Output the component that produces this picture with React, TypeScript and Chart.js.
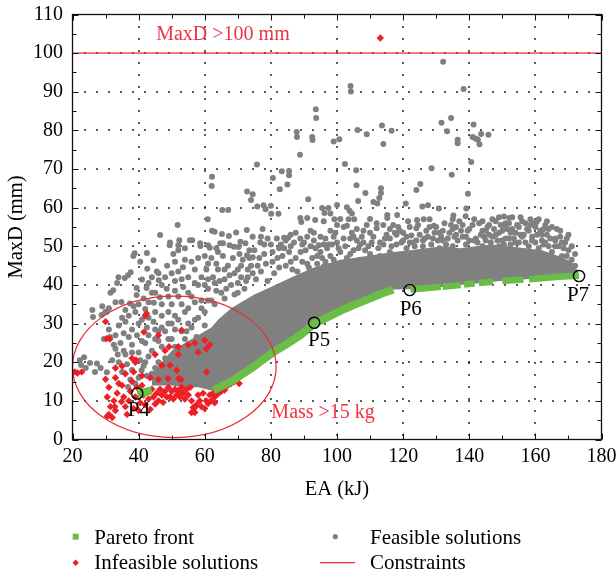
import React, { useEffect, useRef } from 'react';
import { Chart, registerables } from 'chart.js';

Chart.register(...registerables);

// ---------- axis ranges ----------
const xRange = [20, 180];
const yRange = [0, 110];
const xMajorStep = 20;
const yMajorStep = 10;

// ---------- labels ----------
const xTitle = 'EA (kJ)';
const yTitle = 'MaxD (mm)';
const legendLabels = ['Pareto front', 'Feasible solutions', 'Infeasible solutions', 'Constraints'];

// ---------- dense core of the feasible cloud (lower / upper envelope) ----------
const coreEdgeX = [44, 47, 50, 54, 58, 62, 64, 66, 68, 71, 75, 80, 85, 89, 93, 97, 101, 105, 109, 113, 117, 122, 127, 132, 137, 142, 147, 152, 157, 162, 167, 171, 173];
const coreLowerY = [14, 14, 14, 13.5, 13.5, 12.7, 13.3, 14.2, 15.2, 17, 19.3, 22.6, 24.8, 27, 29.9, 31.6, 33.3, 34.8, 36.2, 37.6, 38.8, 38.9, 39.2, 39.5, 40, 40.4, 40.8, 41.2, 41.5, 41.8, 42.1, 42.3, 42.4];
const coreUpperY = [17, 20, 23, 25, 27, 29, 31, 32.5, 34, 35.5, 37.5, 39.5, 41.5, 43, 44.5, 45.5, 46.5, 47, 47.5, 48, 48.5, 49, 49.5, 50, 49.5, 50, 50.5, 50, 49.5, 49, 47.5, 46, 43.5];

// ---------- feasible solutions (scattered) ----------
const feasibleSolutions: [number, number][] = [
  // upper outliers
  [132.1, 97.8], [104.1, 91.5], [104.2, 90.1], [138.3, 90.7],
  [93.6, 85.5], [93.7, 83.2], [134.5, 83.2], [131.6, 82], [141.3, 81.5], [113.6, 81.3], [106.2, 80.1], [116.5, 79.9], [133.3, 79.8], [87.8, 79.6], [109, 79], [143.6, 79.1], [145.8, 78.9], [87.9, 78.3], [92.5, 78.3], [141, 78.3], [141.9, 77.9], [142.6, 77.6], [100.7, 77.7], [92.6, 77.5], [136.5, 77.6], [136.5, 76.7], [99, 77.1], [114, 76.5], [143.1, 76.4],
  [88.8, 73.7], [140.6, 71.8], [102.4, 71.3], [75.8, 71.2], [128.6, 70.2], [105.8, 69.7], [83.3, 69.4], [85.5, 69.5], [85.5, 68.4], [134.7, 68.5], [62.2, 68], [80.6, 67.7], [85, 66], [105.9, 65.8], [62.1, 65.6], [125.2, 66.1], [113.3, 65], [82.7, 64.8], [124, 64.6], [72.8, 64.2], [74.5, 63.5], [108.6, 63.8], [113.3, 63.8], [139.6, 63.6], [112.8, 62.5], [74, 62], [91.3, 62.2], [106.4, 61.7], [111, 61.5], [112.2, 61.1], [120.8, 61.1], [77.8, 60.6], [80, 60.5], [127.5, 60.6], [100, 60.7], [125.8, 60.3], [75.9, 60.3], [103, 60.1], [130.8, 59.8], [139.1, 59.8], [95.5, 59.9], [97.4, 59.9], [65.3, 59.4], [67.1, 59.4], [78.4, 59.6], [103.8, 59.2], [80.1, 58.4], [82.3, 58.4], [98, 58.5], [104.5, 58.5], [115.2, 58.1], [118.2, 58.1], [138.9, 57.8], [135.2, 58], [96.2, 58.6], [88.9, 57.3], [91, 57.3], [60.9, 57], [93.4, 56.8], [99.2, 57], [101, 57.1], [105.2, 57], [110, 57.1], [115.2, 57.3], [126.2, 57], [135, 57], [150.5, 57.7], [152.1, 57.3], [124.2, 56.8], [89.2, 56.3], [96, 56.5], [160.4, 56.3],
  // speckled band above the core
  [51.8, 55.5], [46.5, 52.9], [62.2, 54], [63, 53.8], [65.2, 53.2], [67.3, 52.7], [69.5, 53.6], [84, 52.2], [85.2, 52.2], [124, 54.7], [129.3, 55.3], [162.4, 54.4], [72.7, 54.2], [74.5, 52.5], [76.8, 51], [81.8, 52], [88.9, 52], [93, 53.5], [95, 52.5], [98, 54], [99.5, 53.5], [102, 55], [103, 55.3], [106, 54.5], [109, 55.5], [112, 56], [117, 55.5], [122, 55], [127, 54], [130, 55], [136, 55], [140, 54.5], [143, 56], [144, 56.5], [146, 55.5], [148, 56.5], [149, 57.5], [152, 56], [153, 57.5], [155, 55], [156, 56.5], [157, 56], [158.5, 57], [161, 57], [163.5, 56.5], [160, 55], [164, 54.5], [145, 54], [150, 54], [154, 53.5], [158, 54], [134, 53.5], [131, 53.5], [120, 53.5], [115, 53], [111, 52.5], [104.5, 53.5], [125, 53], [138, 52.5], [142, 52], [147, 52.5], [152, 52], [156.5, 53], [162, 53], [147.5, 54.5], [143.5, 53],
  [95, 48.5], [97.5, 50.5], [99, 52.5], [102.5, 50], [104, 48], [106.5, 49.5], [107.5, 52.5], [110.5, 51], [112.5, 49.5], [114.5, 52], [116.5, 50], [117.5, 53.5], [119.5, 51], [121, 52.5], [123.5, 50], [124.5, 55.5], [126.5, 52], [128, 55], [130.5, 51.5], [132, 54], [133.5, 52], [135, 54.5], [136.5, 51.5], [137.5, 54], [139, 52.5], [141, 55.5], [142.5, 51], [144.5, 52.5], [145.5, 55], [146.5, 51], [148, 53], [149.5, 55.5], [150.5, 50.5], [151.5, 54.5], [153.5, 52], [154.5, 55.5], [156, 52.5], [157.5, 54.5], [159, 52.5], [160, 51], [161.5, 54], [162.5, 50.5], [164.5, 52], [166, 50], [167.5, 52.5], [168.5, 49.5], [169.5, 47.5], [171, 50], [172, 45], [170, 53], [166.5, 54.5], [163, 55.5], [159.5, 56], [155.5, 57.5], [151, 56], [147, 57], [141.5, 57], [137, 56.5], [132.5, 56], [128, 57], [121.5, 56.5], [118.5, 55], [114, 55.5], [108, 54], [103.5, 57], [100, 55.5],
  [126, 51.5], [129.5, 53.5], [133, 50.5], [136, 53], [139.5, 54], [141.5, 51.5], [144, 54], [146, 53], [148.5, 51.5], [150.5, 55.5], [152.5, 53.5], [154, 51], [155.5, 53], [157, 51], [158.5, 55.5], [160.5, 53], [162, 51.5], [163.5, 53], [165, 55], [166, 51.5], [167.5, 54], [168, 51], [169.5, 52], [153, 54.5], [149, 53.5], [145, 51.5], [138, 55.5], [134.5, 55.5], [131.5, 52.5], [127.5, 52.5], [124, 51.5], [122, 51], [119, 54], [116, 54.5], [113, 51], [110, 53.5], [107, 50.5], [105, 52.5], [102, 52], [100.5, 49.5], [98.5, 50.5], [96, 50.5], [93, 51.5], [91, 52.5], [89.5, 50.5], [87.5, 53.5], [86, 50], [84.5, 51.5], [82.5, 49.5], [80.5, 48.5], [78, 50.5], [77, 52.5],
  [49.5, 51], [52, 50.3], [55.5, 51.6], [54, 49.5], [52, 49], [50.5, 48], [51, 46], [48.6, 45], [53.4, 44.6], [58.6, 50.8], [61, 50.3], [63.5, 49.5], [65.5, 50.8], [67.5, 50.3], [70.2, 49.8], [72.3, 50.8], [73.5, 49], [74.5, 47.2],
  [49.4, 50.3], [52.3, 51.6], [56.2, 51.6], [58.7, 50.1], [61.5, 49.6], [64.7, 50.8], [68.8, 49.9], [70.8, 51.2], [72.8, 47.7],
  [76, 45], [78, 48], [80, 50.5], [82, 47], [84, 49.5], [86, 46], [87, 51], [89, 48.5], [91, 45.5], [92, 50], [94, 47.5], [96, 44.8], [97, 49.5], [99, 46.5], [100, 51], [101, 48.5], [94.5, 50.3], [96.5, 52], [100.5, 45.5],
  [103, 47], [104, 52], [105, 49], [107, 46.5], [108, 51], [110, 48], [112, 54.7], [113, 47.5], [114, 50.5], [116, 48.5], [118, 50.5], [119, 47.5], [121, 49.5], [123, 51], [124, 47.8], [108.5, 49], [111.5, 46.8], [116, 52], [120, 51.5], [106, 51.5], [118, 53], [122.5, 52.8], [109.5, 50],
  [126, 50], [128, 48], [129, 52], [131, 49.5], [132, 51.5], [133, 47.5], [135, 50], [137, 48.5], [139, 50.5], [141, 48], [144, 50], [146, 47.8], [149, 50], [151, 52], [153, 49], [155, 51], [157, 48.5], [159, 51.5], [161, 49.5], [163, 51], [165, 48.5], [166, 52], [167, 50], [168, 47.5], [170, 49], [171, 46.5], [172, 48], [150, 51.5], [148, 49], [152.5, 50.5], [135.5, 52.5], [128.5, 50.5], [127, 46.5], [140, 51.5], [138, 47], [134, 46.5], [160.5, 47.5], [165.5, 45.8], [168.5, 44.5], [169, 51], [164, 50], [158, 50],
  [62, 36], [63.5, 38.5], [64.5, 41], [66.5, 39], [67.5, 42.5], [69, 37.5], [70, 40.5], [71, 42], [72.5, 41], [73.5, 47], [74.5, 43], [75.5, 41.5], [76.5, 47], [77, 43.5], [78.5, 45.5], [79, 41], [80.5, 46], [81, 43], [82.5, 44.5], [83.5, 47.5], [84.5, 45], [85.5, 48.5], [86.5, 44], [87.5, 47], [88, 43.5], [89.5, 46], [90.5, 49], [91.5, 44.5], [92.5, 47], [93.5, 49.5], [94, 45.5], [95.5, 47], [96.5, 46], [98, 47.5], [75, 49], [79, 52], [83, 50.5], [86, 53], [90, 51], [92, 54], [77.5, 54.5], [70.5, 48], [66, 44], [64, 48.5], [61, 45.5],
  // left part of the cloud
  [38.4, 47.5], [36.8, 42.5], [37.6, 43.3], [39.4, 39.2], [39.4, 37.4], [32.3, 38.6], [34.8, 35.6], [37.4, 35.2], [30.3, 33], [28.8, 32.2], [26.2, 31.7], [38.8, 48.2], [40.5, 46], [42.6, 44.2], [44, 42], [45.5, 43.5], [46.1, 41.2], [42.4, 39.2], [44, 38], [46.4, 36.8], [41.5, 36.5], [43, 40.5], [33.5, 40.5], [35.8, 41.8], [31.5, 38],
  [33.9, 42], [42.5, 48.3], [44.5, 46.4], [41, 41.4], [46, 43], [29.9, 33],
  [36, 33.5], [40, 35], [42, 33.8], [44.6, 35.4], [26, 33.5], [29, 34.5], [31, 34], [33, 35.5], [38.5, 34.5],
  [22.2, 20.5], [23.5, 21.3], [22.6, 19.3], [25.3, 19.8], [24, 18.5], [31.3, 26.5], [32.5, 24.5], [33.7, 22], [32, 20.5], [27.4, 19.7], [28.5, 18.5], [30.4, 17.4], [26.8, 17.5], [33, 23.5], [34.5, 25], [35.5, 23], [36.8, 13.6], [40.9, 17.9], [42.5, 16.5], [44, 17], [45.4, 16], [36.5, 19.5], [38, 18], [35, 17.5], [29.5, 26], [31, 28.5], [34, 29.5], [36, 30.5], [38, 28.5], [40, 30], [42.5, 29], [44.5, 30.5], [38, 24.5], [40, 22.5], [42, 25], [44, 23], [46, 25.5], [46, 20], [48, 18], [48, 28], [50, 30], [47, 32], [50, 35], [52, 37], [48.5, 39], [51, 41], [53.5, 39.5], [55, 42], [57, 44], [56, 37], [58, 40], [54, 33], [57, 31], [60, 33], [59, 36], [61, 39], [62.5, 42], [64, 44], [66, 41.5], [65, 38], [68, 40], [69, 43], [71, 45], [73, 44], [70, 38], [63, 35],
  [60.5, 44], [62, 47], [63.5, 45.5], [65.5, 47.5], [67, 45], [68.5, 47], [70, 44], [71.5, 46.5], [73, 42], [74, 45], [60, 40], [66, 36.5], [72, 39], [56, 29], [54, 26], [52, 18], [54, 20], [56, 21], [50, 20.5], [48, 21], [50, 26], [52, 31], [46, 28], [42, 20],
  [40, 16], [41.5, 19], [43, 21.5], [45, 18.5], [46.5, 17.5], [47.5, 15], [49, 17], [50.5, 15.5], [51, 19], [53, 17], [55, 15.5], [57, 17], [58.5, 19.5], [60, 21], [61.5, 19], [62, 16], [57, 21.5], [55, 19], [53, 22.5], [51, 24], [49, 26], [47, 24], [45, 26], [43, 27], [41, 25.5], [39.5, 27], [37, 26.5], [35.5, 27.5], [33, 27], [35, 31.5], [37, 32], [39, 33], [41, 31], [43, 31.5], [45, 33], [47, 35], [49, 33], [51, 32], [53, 35], [55, 34], [57, 35.5], [59, 34], [61, 36], [55, 30], [58, 31.5], [60, 29.5], [53, 28], [51, 28.5], [49, 30], [47, 29], [45, 28.5], [43, 35.5], [45, 38], [47, 40], [49, 37], [51, 38.5], [53, 41.5], [55, 38], [57, 40.5], [59, 42], [61, 41.5], [63, 40.5], [56, 46], [58, 47], [60, 47.5], [54, 46.5], [52, 43.5], [50, 43], [48, 42], [57.5, 26.5], [59.5, 26], [54.5, 28], [40.5, 20.5], [38, 22.5], [36, 22], [34, 20], [37.5, 15.5], [39, 14.5],
];

// ---------- infeasible solutions ----------
const infeasibleSolutions: [number, number][] = [
  [113.1, 103.9],
  [20.7, 17.5], [22.8, 17.5], [21.5, 17.2], [30, 15.6], [31, 13.5], [30.5, 11], [31.5, 8.5], [31, 6.5], [30.5, 6], [32, 5.7], [33, 7.5], [32.5, 10], [33.5, 12], [34, 14.5], [33, 16], [35, 14], [35.5, 11], [36, 8.5], [36.5, 6.5], [37, 10], [37.5, 12.5], [38, 15], [38.5, 8], [39, 11], [39.5, 13.5], [40, 7.5], [40.5, 9.5], [41, 14], [41.5, 11.5], [42, 9], [42.5, 12.5], [43, 10.5], [43.5, 7.8], [44, 13], [44.5, 11], [45, 9.2], [45.5, 12], [46, 10], [46.5, 13], [47, 11.5], [47.4, 9.6], [48, 12.5], [48.5, 11], [49, 13.5], [49.5, 11], [50, 12.5], [50.5, 10.5], [51, 13], [51.5, 11.5], [52, 12.7], [52.5, 11], [53, 13.5], [53.5, 12], [54, 10.5], [54.5, 13], [55, 11.5], [55.6, 13.5], [56, 10], [56.5, 8.3], [57, 7], [57.5, 9], [58, 11.5], [58.5, 10], [59, 8.5], [59.5, 12], [60, 8], [60.5, 10], [61, 9.3], [61.5, 11.5], [62, 10], [62.5, 12], [63, 11], [63.5, 12.5], [64, 11.8], [64.5, 13], [65, 12.5], [66, 13.5], [67, 14], [68, 14.5], [69, 15], [70.4, 14.5], [66, 12.8], [63, 9.5], [36, 17], [38.5, 17.5], [41, 16.5], [43.5, 16], [46, 15.5], [34.8, 9.8], [32.8, 8.5],
  [31.3, 26], [30.3, 26.1], [42, 32], [42.4, 32.6], [49.2, 24], [52, 22], [52, 24], [49.5, 19.2], [52.2, 15.8], [58, 22.6], [60, 25.7], [60.5, 23.5], [61.5, 24.5], [53, 28.3], [41.6, 27.8], [46, 27], [60.6, 17.5], [51.5, 17.9], [47, 19.2], [48, 23], [39, 20], [39.2, 20.6], [48.9, 15.8], [52.8, 15.5], [56, 7], [57, 8.3], [49.5, 11], [52.5, 12.7], [30, 30.5], [35, 19], [33, 18.5], [38, 21], [45, 22], [55, 24.5], [57, 25],
];

// ---------- Pareto front (null y = gap) ----------
const paretoFront: [number, number | null][] = [
  [39.6, 11.9], [42, 12.3], [44, 12.7], [53, null],
  [62.6, 12.7], [64, 13.3], [66, 14.2], [68.7, 15.3], [71.5, 17], [74.7, 18.8], [77.5, 20.6], [80.8, 22.6], [85, 24.8], [88.9, 27], [93.1, 29.9], [97, 31.6], [101, 33.3], [105, 34.8], [109.1, 36.2], [113, 37.6], [117, 38.8], [119.5, null],
  [122.2, 38.8], [126, 39.1], [131.4, 39.5], [131.6, null],
  [131.9, 39.5], [137.4, 40], [137.9, null],
  [138.4, 40.1], [141.6, 40.4], [142.2, null],
  [142.9, 40.5], [147.2, 40.8], [148.5, null],
  [150, 41], [153, 41.2], [156.4, 41.4], [157.2, null],
  [158.1, 41.5], [162.6, 41.8], [167, 42.1], [173.2, 42.4],
];

// ---------- constraint ----------
const constraintX = [20, 180];
const constraintY = [100, 100];

// ---------- highlighted solutions ----------
const highlightLabels = ['P4', 'P5', 'P6', 'P7'];
const highlightX = [39.6, 93.1, 122.0, 173.2];
const highlightY = [11.9, 30.2, 38.7, 42.3];

// ---------- annotations ----------
const maxDText = 'MaxD >100 mm';
const maxDTextAt = [65.5, 104.7];
const massText = 'Mass >15 kg';
const massTextAt = [95.8, 6.9];
const massEllipse = { cx: 50.8, cy: 18.8, rx: 30.8, ry: 18.3 };

// ---------- styles ----------
const GRAY = '#808080';
const RED = '#ee1f26';
const RED_LINE = '#ec2a30';
const RED_TEXT = '#ef3340';
const GREEN = '#6abd45';
const FONT = '"Liberation Serif", "Times New Roman", serif';
const labelOffsets = [[1.5, 17], [5, 17.5], [1, 20], [-1, 19.5]];

const AREA = { left: 72.5, right: 601.5, top: 14.5, bottom: 439.5 };

const zeroPadding = (s: any) => {
  s.paddingTop = 0;
  s.paddingBottom = 0;
  s.paddingLeft = 0;
  s.paddingRight = 0;
};

const decorPlugin = {
  id: 'decor',
  beforeDatasetsDraw(chart: any) {
    const { ctx, chartArea: a, scales } = chart;
    const xs = scales.x;
    const ys = scales.y;
    ctx.save();
    ctx.fillStyle = '#000';
    for (let v = xRange[0] + xMajorStep; v < xRange[1]; v += xMajorStep) {
      const px = Math.round(xs.getPixelForValue(v));
      for (let py = a.top + 12; py < a.bottom - 2; py += 12) {
        ctx.fillRect(px - 0.8, Math.round(py) - 0.8, 1.6, 1.6);
      }
    }
    for (let v = yRange[0] + yMajorStep; v < yRange[1]; v += yMajorStep) {
      const py = Math.round(ys.getPixelForValue(v));
      for (let px = a.left + 12; px < a.right - 2; px += 12) {
        ctx.fillRect(Math.round(px) - 0.8, py - 0.8, 1.6, 1.6);
      }
    }
    ctx.restore();
  },
  afterDatasetsDraw(chart: any) {
    const { ctx, scales } = chart;
    const xs = scales.x;
    const ys = scales.y;
    ctx.save();
    ctx.setLineDash([]);
    const cx = xs.getPixelForValue(massEllipse.cx);
    const cy = ys.getPixelForValue(massEllipse.cy);
    const rx = Math.abs(xs.getPixelForValue(massEllipse.cx + massEllipse.rx) - cx);
    const ry = Math.abs(ys.getPixelForValue(massEllipse.cy + massEllipse.ry) - cy);
    ctx.strokeStyle = RED_LINE;
    ctx.lineWidth = 1.2;
    ctx.beginPath();
    ctx.ellipse(cx, cy, rx, ry, 0, 0, Math.PI * 2);
    ctx.stroke();

    ctx.fillStyle = RED_TEXT;
    ctx.font = `20px ${FONT}`;
    ctx.textAlign = 'center';
    ctx.textBaseline = 'middle';
    ctx.fillText(maxDText, xs.getPixelForValue(maxDTextAt[0]), ys.getPixelForValue(maxDTextAt[1]));
    ctx.fillText(massText, xs.getPixelForValue(massTextAt[0]), ys.getPixelForValue(massTextAt[1]));

    ctx.fillStyle = '#000';
    ctx.font = `21px ${FONT}`;
    highlightLabels.forEach((lab, i) => {
      const px = xs.getPixelForValue(highlightX[i]) + labelOffsets[i][0];
      const py = ys.getPixelForValue(highlightY[i]) + labelOffsets[i][1];
      ctx.fillText(lab, px, py);
    });
    ctx.restore();
  },
  afterDraw(chart: any) {
    const { ctx, chartArea: a, scales } = chart;
    const xs = scales.x;
    const ys = scales.y;
    ctx.save();
    ctx.setLineDash([]);
    ctx.strokeStyle = '#111';
    ctx.lineWidth = 1.3;
    ctx.strokeRect(a.left, a.top, a.right - a.left, a.bottom - a.top);

    ctx.lineWidth = 1;
    ctx.beginPath();
    for (let v = xRange[0]; v <= xRange[1]; v += xMajorStep / 2) {
      const len = (v - xRange[0]) % xMajorStep === 0 ? 6 : 4;
      const px = Math.round(xs.getPixelForValue(v)) + 0.5;
      ctx.moveTo(px, a.bottom); ctx.lineTo(px, a.bottom - len);
      ctx.moveTo(px, a.top); ctx.lineTo(px, a.top + len);
    }
    for (let v = yRange[0]; v <= yRange[1]; v += yMajorStep / 2) {
      const len = (v - yRange[0]) % yMajorStep === 0 ? 6 : 4;
      const py = Math.round(ys.getPixelForValue(v)) + 0.5;
      ctx.moveTo(a.left, py); ctx.lineTo(a.left + len, py);
      ctx.moveTo(a.right, py); ctx.lineTo(a.right - len, py);
    }
    ctx.stroke();

    ctx.fillStyle = '#000';
    ctx.font = `20.5px ${FONT}`;
    ctx.textAlign = 'center';
    ctx.textBaseline = 'middle';
    ctx.fillText(xTitle, (a.left + a.right) / 2, 490);
    ctx.save();
    ctx.translate(17, (a.top + a.bottom) / 2);
    ctx.rotate(-Math.PI / 2);
    ctx.fillText(yTitle, 0, 0);
    ctx.restore();

    const row1 = 538.5;
    const row2 = 563;
    ctx.font = `21px ${FONT}`;
    ctx.textAlign = 'left';
    ctx.fillStyle = GREEN;
    ctx.fillRect(75.7 - 3, 536.7 - 3, 6, 6);
    ctx.fillStyle = '#000';
    ctx.fillText(legendLabels[0], 94.3, row1);
    ctx.fillStyle = GRAY;
    ctx.beginPath();
    ctx.arc(335.3, 536.7, 2.6, 0, Math.PI * 2);
    ctx.fill();
    ctx.fillStyle = '#000';
    ctx.fillText(legendLabels[1], 370, row1);
    ctx.fillStyle = RED;
    ctx.beginPath();
    ctx.moveTo(75.7 - 3.2, 562.7);
    ctx.lineTo(75.7, 562.7 - 3.2);
    ctx.lineTo(75.7 + 3.2, 562.7);
    ctx.lineTo(75.7, 562.7 + 3.2);
    ctx.closePath();
    ctx.fill();
    ctx.fillStyle = '#000';
    ctx.fillText(legendLabels[2], 94.3, row2);
    ctx.strokeStyle = RED_LINE;
    ctx.lineWidth = 1.3;
    ctx.beginPath();
    ctx.moveTo(320, 562.7);
    ctx.lineTo(355, 562.7);
    ctx.stroke();
    ctx.fillStyle = '#000';
    ctx.fillText(legendLabels[3], 370, row2);
    ctx.restore();
  },
};

export default function App() {
  const ref = useRef<HTMLCanvasElement>(null);
  useEffect(() => {
    if (!ref.current) return;
    const toXY = (arr: [number, number | null][]) => arr.map(([x, y]) => ({ x, y }));
    const chart = new Chart(ref.current, {
      type: 'scatter',
      data: {
        datasets: [
          {
            type: 'line',
            label: 'core-lower',
            data: coreEdgeX.map((x, i) => ({ x, y: coreLowerY[i] })),
            borderColor: 'transparent',
            borderWidth: 0,
            pointRadius: 0,
            fill: false,
            order: 6,
          },
          {
            type: 'line',
            label: 'core-upper',
            data: coreEdgeX.map((x, i) => ({ x, y: coreUpperY[i] })),
            borderColor: 'transparent',
            borderWidth: 0,
            backgroundColor: GRAY,
            pointRadius: 0,
            fill: '-1',
            order: 5,
          },
          {
            label: legendLabels[1],
            data: toXY(feasibleSolutions),
            backgroundColor: GRAY,
            borderWidth: 0,
            pointRadius: 3,
            order: 4,
          },
          {
            label: legendLabels[2],
            data: toXY(infeasibleSolutions),
            backgroundColor: RED,
            borderWidth: 0,
            pointStyle: 'rectRot',
            pointRadius: 3.7,
            order: 3,
          },
          {
            type: 'line',
            label: legendLabels[3],
            data: constraintX.map((x, i) => ({ x, y: constraintY[i] })),
            borderColor: RED_LINE,
            borderWidth: 1.3,
            pointRadius: 0,
            fill: false,
            order: 2,
          },
          {
            type: 'line',
            label: legendLabels[0],
            data: toXY(paretoFront),
            borderColor: GREEN,
            borderWidth: 7,
            borderCapStyle: 'butt',
            pointRadius: 0,
            spanGaps: false,
            fill: false,
            segment: {
              borderWidth: (c: any) => (c.p0.parsed.x < 120 ? 8 : 6.5),
            },
            order: 1,
          },
          {
            label: 'highlighted',
            data: highlightX.map((x, i) => ({ x, y: highlightY[i] })),
            backgroundColor: 'rgba(0,0,0,0)',
            borderColor: '#000',
            borderWidth: 1.4,
            pointRadius: 5.6,
            order: 0,
          },
        ],
      } as any,
      options: {
        responsive: false,
        animation: false,
        devicePixelRatio: 1,
        events: [],
        layout: {
          padding: { left: 0, right: 616 - AREA.right, top: AREA.top, bottom: 0 },
        },
        plugins: {
          legend: { display: false },
          tooltip: { enabled: false },
        },
        scales: {
          x: {
            type: 'linear',
            min: xRange[0],
            max: xRange[1],
            ticks: {
              stepSize: xMajorStep,
              autoSkip: false,
              maxRotation: 0,
              color: '#000',
              padding: 5,
              font: { family: FONT, size: 20 },
            },
            grid: { display: false, drawTicks: false },
            border: { display: false },
            afterFit: (s: any) => { s.height = 577 - AREA.bottom; zeroPadding(s); },
          },
          y: {
            type: 'linear',
            min: yRange[0],
            max: yRange[1],
            ticks: {
              stepSize: yMajorStep,
              autoSkip: false,
              color: '#000',
              padding: 9.5,
              font: { family: FONT, size: 20 },
            },
            grid: { display: false, drawTicks: false },
            border: { display: false },
            afterFit: (s: any) => { s.width = AREA.left; zeroPadding(s); },
          },
        },
      } as any,
      plugins: [decorPlugin],
    });
    return () => chart.destroy();
  }, []);

  return (
    <div style={{ position: 'absolute', left: 0, top: 0, width: 616, height: 577, background: '#fff' }}>
      <canvas ref={ref} width={616} height={577} style={{ display: 'block' }} />
    </div>
  );
}
